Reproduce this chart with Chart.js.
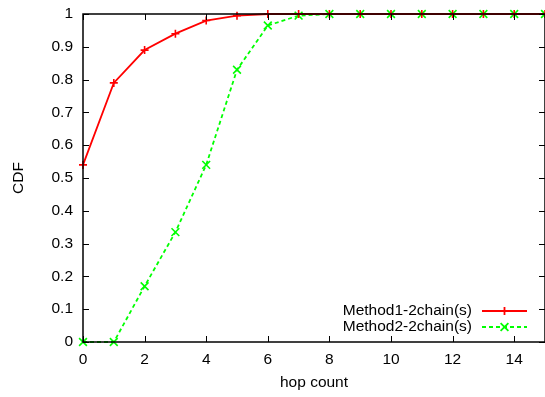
<!DOCTYPE html>
<html>
<head>
<meta charset="utf-8">
<script src="https://cdn.jsdelivr.net/npm/chart.js@4"></script>
<style>
  html, body { margin: 0; padding: 0; background: #fff; }
  #wrap { width: 545px; height: 397px; }
</style>
</head>
<body>
<div id="wrap"><canvas id="cdfChart"></canvas></div>
<script>
// data
const hops = [0, 1, 2, 3, 4, 5, 6, 7, 8, 9, 10, 11, 12, 13, 14, 15];
const method1 = [0.54, 0.79, 0.89, 0.94, 0.98, 0.995, 1, 1, 1, 1, 1, 1, 1, 1, 1, 1];
const method2 = [0, 0, 0.17, 0.335, 0.54, 0.83, 0.965, 0.995, 1, 1, 1, 1, 1, 1, 1, 1];
const xTickValues = [0, 2, 4, 6, 8, 10, 12, 14];
const yTickValues = [0, 0.1, 0.2, 0.3, 0.4, 0.5, 0.6, 0.7, 0.8, 0.9, 1];
const seriesNames = ["Method1-2chain(s)", "Method2-2chain(s)"];

const FONT = "'Liberation Sans', Arial, sans-serif";
const FSIZE = 15.5;

// gnuplot style frame, inward ticks and the key in the bottom right
const gnuplotFrame = {
    id: "gnuplotFrame",
    afterDatasetsDraw(chart) {
        const { ctx, chartArea: a, scales } = chart;
        ctx.save();
        ctx.strokeStyle = "#000";
        ctx.lineWidth = 1.5;
        ctx.strokeRect(a.left, a.top, a.right - a.left, a.bottom - a.top);
        ctx.lineWidth = 1;
        ctx.beginPath();
        const len = 6;
        xTickValues.forEach(v => {
            const x = Math.round(scales.x.getPixelForValue(v)) + 0.5;
            ctx.moveTo(x, a.bottom); ctx.lineTo(x, a.bottom - len);
            ctx.moveTo(x, a.top); ctx.lineTo(x, a.top + len);
        });
        yTickValues.forEach(v => {
            const y = Math.round(scales.y.getPixelForValue(v)) + 0.5;
            ctx.moveTo(a.left, y); ctx.lineTo(a.left + len, y);
            ctx.moveTo(a.right, y); ctx.lineTo(a.right - len, y);
        });
        ctx.stroke();

        // key
        ctx.font = FSIZE + "px " + FONT;
        ctx.textAlign = "right";
        ctx.textBaseline = "middle";
        ctx.fillStyle = "#000";
        const textRight = 472, lineL = 482, lineR = 527, rowY = [311, 327];
        chart.data.datasets.forEach((ds, i) => {
            const y = rowY[i];
            ctx.fillText(ds.label, textRight, y);
            ctx.strokeStyle = ds.borderColor;
            ctx.lineWidth = ds.borderWidth;
            ctx.setLineDash(ds.borderDash || []);
            ctx.beginPath();
            ctx.moveTo(lineL, y); ctx.lineTo(lineR, y);
            ctx.stroke();
            ctx.setLineDash([]);
            Chart.helpers.drawPoint(ctx, {
                pointStyle: ds.pointStyle,
                radius: ds.pointRadius,
                rotation: 0,
                borderWidth: ds.pointBorderWidth
            }, (lineL + lineR) / 2, y);
        });
        ctx.restore();
    }
};

const noPad = s => { s.paddingTop = 0; s.paddingBottom = 0; s.paddingLeft = 0; s.paddingRight = 0; };

new Chart(document.getElementById("cdfChart"), {
    type: "line",
    data: {
        datasets: [{
            label: seriesNames[0],
            data: hops.map((h, i) => ({ x: h, y: method1[i] })),
            borderColor: "#ff0000",
            backgroundColor: "#ff0000",
            borderWidth: 1.8,
            pointStyle: "cross",
            pointRadius: 4,
            pointBorderWidth: 1.6,
            pointBorderColor: "#ff0000",
            tension: 0,
            fill: false
        }, {
            label: seriesNames[1],
            data: hops.map((h, i) => ({ x: h, y: method2[i] })),
            borderColor: "#00ff00",
            backgroundColor: "#00ff00",
            borderWidth: 1.8,
            borderDash: [4, 3],
            pointStyle: "crossRot",
            pointRadius: 5.5,
            pointBorderWidth: 1.6,
            pointBorderColor: "#00ff00",
            tension: 0,
            fill: false
        }]
    },
    options: {
        responsive: true,
        maintainAspectRatio: false,
        animation: false,
        clip: false,
        layout: { autoPadding: false, padding: { top: 14, right: -1, left: 0, bottom: 0 } },
        plugins: {
            legend: { display: false },
            tooltip: { enabled: false }
        },
        scales: {
            x: {
                type: "linear",
                min: 0,
                max: 15,
                grid: { display: false, drawTicks: false },
                border: { display: false },
                afterBuildTicks: s => { s.ticks = xTickValues.map(v => ({ value: v })); },
                afterFit: s => { s.height = 55; noPad(s); },
                ticks: {
                    color: "#000",
                    font: { family: FONT, size: FSIZE },
                    padding: 8,
                    maxRotation: 0,
                    callback: v => String(v)
                },
                title: {
                    display: true,
                    text: "hop count",
                    color: "#000",
                    font: { family: FONT, size: FSIZE },
                    padding: { top: 0, bottom: 5 }
                }
            },
            y: {
                min: 0,
                max: 1,
                grid: { display: false, drawTicks: false },
                border: { display: false },
                afterBuildTicks: s => { s.ticks = yTickValues.map(v => ({ value: v })); },
                afterFit: s => { s.width = 83; noPad(s); },
                ticks: {
                    color: "#000",
                    font: { family: FONT, size: FSIZE },
                    padding: 10,
                    callback: v => String(Math.round(v * 10) / 10)
                },
                title: {
                    display: true,
                    text: "CDF",
                    color: "#000",
                    font: { family: FONT, size: FSIZE },
                    padding: { top: 9, bottom: 0 }
                }
            }
        }
    },
    plugins: [gnuplotFrame]
});
</script>
</body>
</html>
